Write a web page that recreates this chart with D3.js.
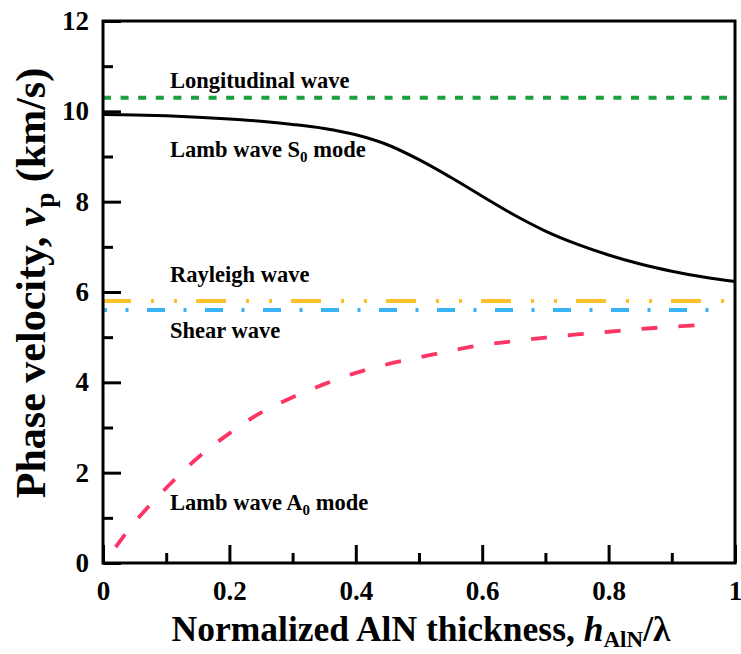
<!DOCTYPE html>
<html>
<head>
<meta charset="utf-8">
<script src="https://cdn.jsdelivr.net/npm/d3@7"></script>
<style>
  html, body { margin: 0; padding: 0; background: #fff; }
  svg text { font-family: "Liberation Serif", "Times New Roman", serif; font-weight: bold; fill: #000; }
</style>
</head>
<body>
<svg id="chart" width="741" height="654"></svg>
<script>
// ---- data ----
const s0X = [0, 0.05, 0.1, 0.15, 0.2, 0.25, 0.3, 0.35, 0.4, 0.45, 0.5, 0.55, 0.6, 0.65, 0.7, 0.75, 0.8, 0.85, 0.9, 0.95, 1.0];
const s0V = [9.93, 9.92, 9.9, 9.87, 9.83, 9.78, 9.71, 9.62, 9.48, 9.26, 8.93, 8.54, 8.12, 7.71, 7.35, 7.06, 6.82, 6.62, 6.46, 6.33, 6.23];
const a0X = [0.02, 0.05, 0.1, 0.15, 0.2, 0.25, 0.3, 0.35, 0.4, 0.45, 0.5, 0.55, 0.6, 0.65, 0.7, 0.75, 0.8, 0.85, 0.9, 0.968];
const a0V = [0.35, 0.9, 1.66, 2.33, 2.87, 3.33, 3.67, 3.96, 4.21, 4.4, 4.55, 4.7, 4.83, 4.91, 4.99, 5.06, 5.12, 5.18, 5.23, 5.29];
const longitudinalV = 10.3;
const rayleighV = 5.8;
const shearV = 5.6;
const xTicks = [0, 0.2, 0.4, 0.6, 0.8, 1];
const xTickLabels = ["0", "0.2", "0.4", "0.6", "0.8", "1"];
const xMinorTicks = [0.1, 0.3, 0.5, 0.7, 0.9];
const yTicks = [0, 2, 4, 6, 8, 10, 12];
const yMinorTicks = [1, 3, 5, 7, 9, 11];

// ---- layout ----
const svg = d3.select("#chart");
const L = 103, R = 735, T = 21, B = 563;
const x = d3.scaleLinear().domain([0, 1]).range([L, R]);
const y = d3.scaleLinear().domain([0, 12]).range([B, T]);

const plot = svg.append("g");

// horizontal reference lines
plot.append("line")
  .attr("x1", x(0)).attr("x2", x(0.99))
  .attr("y1", y(longitudinalV)).attr("y2", y(longitudinalV))
  .attr("stroke", "#1aa03c").attr("stroke-width", 4)
  .attr("stroke-dasharray", "8,9.6");

plot.append("line")
  .attr("x1", x(0)).attr("x2", x(0.985))
  .attr("y1", y(rayleighV)).attr("y2", y(rayleighV))
  .attr("stroke", "#fcc12c").attr("stroke-width", 4)
  .attr("stroke-dasharray", "30,20,3,20,3,19").attr("stroke-dashoffset", 2);

plot.append("line")
  .attr("x1", x(0)).attr("x2", x(0.98))
  .attr("y1", y(shearV)).attr("y2", y(shearV))
  .attr("stroke", "#38b4f4").attr("stroke-width", 4)
  .attr("stroke-dasharray", "18,18.5,3,18.5").attr("stroke-dashoffset", 14);

const line = d3.line().x(d => x(d[0])).y(d => y(d[1])).curve(d3.curveCatmullRom.alpha(0.5));

plot.append("path")
  .attr("d", line(s0X.map((v, i) => [v, s0V[i]])))
  .attr("fill", "none").attr("stroke", "#000").attr("stroke-width", 3);

plot.append("path")
  .attr("d", line(a0X.map((v, i) => [v, a0V[i]])))
  .attr("fill", "none").attr("stroke", "#fd3566").attr("stroke-width", 3.8)
  .attr("stroke-dasharray", "16,21");

// axes (ticks inward)
const axB = d3.axisBottom(x).tickValues(xTicks).tickFormat((d, i) => xTickLabels[i]).tickSizeInner(-18).tickSizeOuter(0);
const axL = d3.axisLeft(y).tickValues(yTicks).tickFormat(d3.format("d")).tickSizeInner(-18).tickSizeOuter(0);
const gx = svg.append("g").attr("transform", `translate(0,${B})`).call(axB);
const gy = svg.append("g").attr("transform", `translate(${L},0)`).call(axL);
const gxm = svg.append("g").attr("transform", `translate(0,${B})`).call(d3.axisBottom(x).tickValues(xMinorTicks).tickSizeInner(-10).tickSizeOuter(0).tickFormat(""));
const gym = svg.append("g").attr("transform", `translate(${L},0)`).call(d3.axisLeft(y).tickValues(yMinorTicks).tickSizeInner(-10).tickSizeOuter(0).tickFormat(""));
[gx, gy, gxm, gym].forEach(g => {
  g.select(".domain").remove();
  g.selectAll(".tick line").attr("stroke", "#000").attr("stroke-width", 3);
  g.selectAll(".tick text").style("font-size", "27px").style("font-family", "'Liberation Serif', 'Times New Roman', serif").style("font-weight", "bold").attr("fill", "#000");
});
gx.selectAll(".tick text").attr("dy", "0.71em").attr("y", 18);
gy.selectAll(".tick text").attr("x", -14);

// frame
svg.append("rect").attr("x", L).attr("y", T).attr("width", R - L).attr("height", B - T)
  .attr("fill", "none").attr("stroke", "#000").attr("stroke-width", 3);

// labels
const fs = 22.5;
function label(tx, ty, main, sub, rest) {
  const t = svg.append("text").attr("x", tx).attr("y", ty).style("font-size", fs + "px");
  t.append("tspan").text(main);
  if (sub) {
    t.append("tspan").text(sub).style("font-size", "15px").attr("dy", 5);
    t.append("tspan").text(rest).attr("dy", -5);
  }
}
label(170, 88, "Longitudinal wave");
label(170, 157, "Lamb wave S", "0", " mode");
label(170, 282, "Rayleigh wave");
label(170, 338, "Shear wave");
label(170, 510, "Lamb wave A", "0", " mode");

// x axis title
const xt = svg.append("text").attr("x", 421).attr("y", 641).attr("text-anchor", "middle").style("font-size", "35.5px");
xt.append("tspan").text("Normalized AlN thickness, ");
xt.append("tspan").text("h").style("font-style", "italic");
xt.append("tspan").text("AlN").style("font-size", "23px").attr("dy", 6);
xt.append("tspan").text("/λ").attr("dy", -6);

// y axis title
const yt = svg.append("text").attr("transform", `translate(45,283) rotate(-90)`).attr("text-anchor", "middle").style("font-size", "42px");
yt.append("tspan").text("Phase velocity, ");
yt.append("tspan").text("v").style("font-style", "italic");
yt.append("tspan").text("p").style("font-size", "27px").attr("dy", 9);
yt.append("tspan").text(" (km/s)").attr("dy", -9);
</script>
</body>
</html>
